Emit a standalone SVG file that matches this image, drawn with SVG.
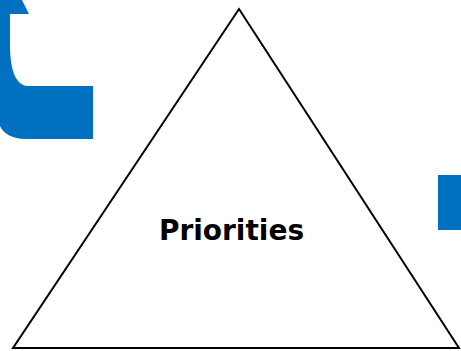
<svg xmlns="http://www.w3.org/2000/svg" width="461" height="351" viewBox="0 0 461 351">
<style>
.blue{fill:#0070C0;stroke:none}
.tri{fill:#fff;stroke:#000;stroke-width:2;stroke-linejoin:miter}
.lbl{font-family:"DejaVu Sans",sans-serif;font-weight:bold;font-size:28px;fill:#000}
</style>
<rect width="461" height="351" fill="#fff"/>
<g id="arrow-left">
<path class="blue" d="M0,0 L22,0 L29,14 L10,14 L10,45 C10,70 16,86 28,86 L93,86 L93,139 L26,139 C12,139 3,133 0,126 Z"/>
</g>
<g id="arrow-right">
<rect class="blue" x="438" y="175" width="23" height="55"/>
</g>
<g id="priorities">
<polygon class="tri" points="239,9 459,348 13,348"/>
<text class="lbl" x="231.5" y="240" text-anchor="middle">Priorities</text>
</g>
<g id="connectors"></g>
</svg>
